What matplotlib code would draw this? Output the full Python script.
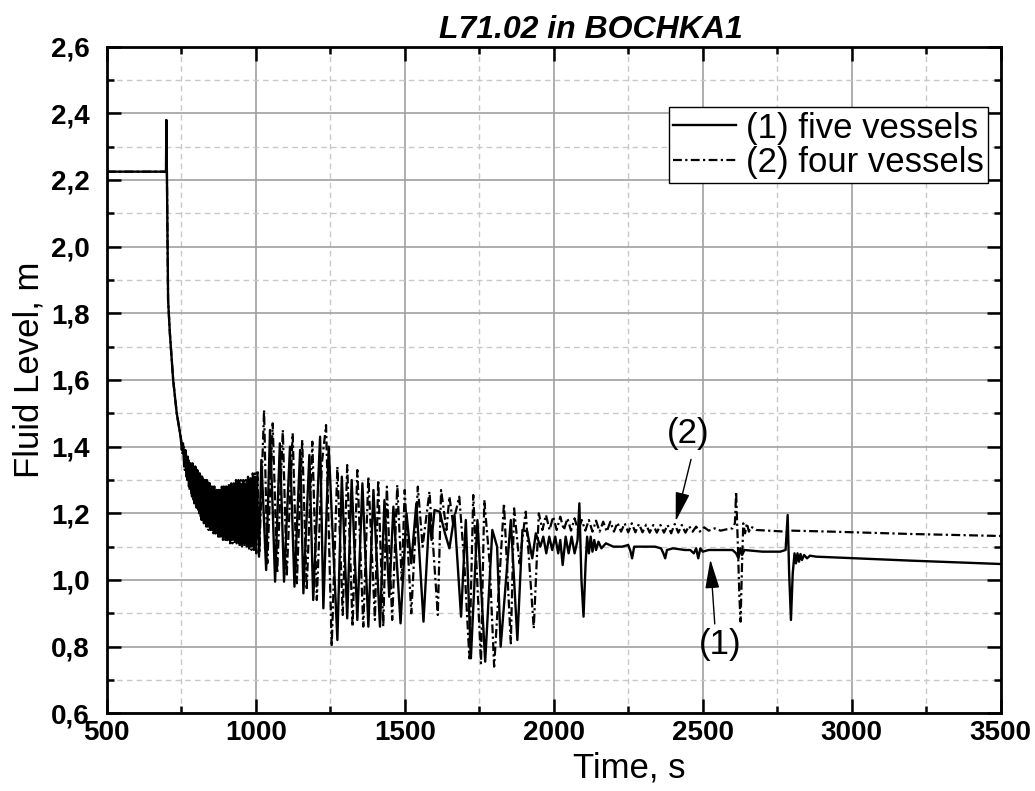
import matplotlib
matplotlib.use("Agg")
import matplotlib.pyplot as plt
from matplotlib.ticker import MultipleLocator, FuncFormatter

plt.rcParams['font.family'] = ['Liberation Sans', 'DejaVu Sans']

# common start: steady level, then the drop (both runs coincide)
t_start = [500, 699, 700, 702, 706, 712, 723, 735, 746]
v_start = [2.225, 2.225, 2.38, 2.22, 1.84, 1.74, 1.60, 1.50, 1.44]

# (1) five vessels - fast oscillating band, 748..1004 s
t1_band = [748, 752, 756, 760, 764, 768, 772, 776, 780, 784,
           788, 792, 796, 800, 804, 808, 812, 816, 820, 824,
           828, 832, 836, 840, 844, 848, 852, 856, 860, 864,
           868, 872, 876, 880, 884, 888, 892, 896, 900, 904,
           908, 912, 916, 920, 924, 928, 932, 936, 940, 944,
           948, 952, 956, 960, 964, 968, 972, 976, 980, 984,
           988, 992, 996, 1000, 1004]
v1_band = [1.43, 1.39, 1.41, 1.34, 1.39, 1.31, 1.37, 1.28, 1.35, 1.26,
           1.35, 1.24, 1.34, 1.22, 1.33, 1.21, 1.32, 1.19, 1.31, 1.18,
           1.30, 1.17, 1.30, 1.16, 1.29, 1.15, 1.28, 1.15, 1.28, 1.14,
           1.27, 1.14, 1.27, 1.13, 1.27, 1.13, 1.28, 1.13, 1.28, 1.12,
           1.28, 1.12, 1.28, 1.12, 1.28, 1.12, 1.29, 1.11, 1.29, 1.11,
           1.29, 1.11, 1.29, 1.11, 1.29, 1.11, 1.30, 1.10, 1.30, 1.10,
           1.30, 1.10, 1.31, 1.09, 1.31]

# (1) five vessels - after 1004 s
t1_rest = [1011, 1019, 1035, 1048, 1065, 1081, 1095, 1115, 1130, 1149, 1160, 1180, 1193,
           1216, 1227, 1245, 1274, 1289, 1307, 1322, 1341, 1358, 1378, 1395, 1417, 1432,
           1448, 1462, 1486, 1506, 1522, 1539, 1563, 1583, 1590, 1600, 1617, 1635, 1650,
           1667, 1689, 1705, 1722, 1744, 1770, 1794, 1810, 1822, 1856, 1878, 1895, 1911,
           1928, 1940, 1955, 1965, 1975, 1985, 1995, 2005, 2015, 2022, 2030, 2040, 2050,
           2060, 2070, 2080, 2086, 2093, 2100, 2107, 2112, 2118, 2124, 2130, 2136, 2142,
           2150, 2160, 2175, 2200, 2230, 2250, 2258, 2263, 2270, 2300, 2340, 2360, 2368,
           2374, 2380, 2400, 2440, 2458, 2470, 2478, 2485, 2492, 2500, 2520, 2560, 2600,
           2612, 2620, 2626, 2632, 2640, 2700, 2760, 2778, 2785, 2790, 2796, 2802, 2808,
           2813, 2818, 2823, 2828, 2833, 2840, 2850, 2860, 2880, 2935, 3200, 3500]
v1_rest = [1.07, 1.36, 1.03, 1.45, 0.995, 1.41, 0.995, 1.40, 0.98, 1.39, 0.96, 1.375, 0.94,
           1.43, 0.915, 1.40, 0.82, 1.31, 0.885, 1.30, 0.88, 1.29, 0.86, 1.27, 0.86, 1.24,
           0.95, 1.22, 0.87, 1.20, 1.05, 1.23, 0.875, 1.20, 1.12, 1.21, 1.205, 1.14, 1.095,
           1.195, 0.89, 1.18, 0.765, 1.18, 0.755, 1.15, 1.10, 0.80, 1.18, 0.82, 1.15, 1.145,
           1.065, 1.14, 1.10, 1.13, 1.08, 1.13, 1.09, 1.13, 1.08, 1.12, 1.045, 1.13, 1.08,
           1.13, 1.08, 1.12, 1.23, 1.00, 0.89, 1.05, 1.13, 1.08, 1.13, 1.085, 1.12, 1.09,
           1.115, 1.095, 1.11, 1.10, 1.10, 1.105, 1.085, 1.065, 1.10, 1.10, 1.10, 1.095, 1.08,
           1.065, 1.09, 1.095, 1.09, 1.09, 1.08, 1.095, 1.065, 1.095, 1.085, 1.09, 1.09, 1.09,
           1.08, 1.065, 1.095, 1.075, 1.09, 1.085, 1.085, 1.09, 1.195, 1.02, 0.88, 1.02, 1.08,
           1.05, 1.08, 1.055, 1.078, 1.06, 1.075, 1.065, 1.073, 1.07, 1.068, 1.058, 1.048]

# (2) four vessels - fast oscillating band, 750..1006 s
t2_band = [750, 754, 758, 762, 766, 770, 774, 778, 782, 786,
           790, 794, 798, 802, 806, 810, 814, 818, 822, 826,
           830, 834, 838, 842, 846, 850, 854, 858, 862, 866,
           870, 874, 878, 882, 886, 890, 894, 898, 902, 906,
           910, 914, 918, 922, 926, 930, 934, 938, 942, 946,
           950, 954, 958, 962, 966, 970, 974, 978, 982, 986,
           990, 994, 998, 1002, 1006]
v2_band = [1.42, 1.38, 1.40, 1.33, 1.38, 1.30, 1.36, 1.27, 1.35, 1.25,
           1.34, 1.23, 1.34, 1.21, 1.33, 1.20, 1.32, 1.18, 1.31, 1.17,
           1.30, 1.16, 1.30, 1.15, 1.29, 1.15, 1.28, 1.14, 1.28, 1.14,
           1.27, 1.13, 1.27, 1.13, 1.28, 1.12, 1.28, 1.12, 1.28, 1.12,
           1.29, 1.11, 1.29, 1.11, 1.29, 1.11, 1.30, 1.11, 1.30, 1.10,
           1.30, 1.10, 1.30, 1.10, 1.30, 1.10, 1.31, 1.09, 1.31, 1.09,
           1.32, 1.09, 1.32, 1.08, 1.33]

# (2) four vessels - after 1006 s
t2_rest = [1012, 1028, 1039, 1057, 1072, 1091, 1104, 1124, 1138, 1156, 1171, 1190, 1205,
           1222, 1236, 1255, 1274, 1292, 1307, 1325, 1341, 1361, 1378, 1400, 1411, 1428,
           1440, 1458, 1475, 1490, 1500, 1522, 1544, 1560, 1583, 1611, 1622, 1640, 1650,
           1662, 1683, 1700, 1717, 1730, 1756, 1767, 1785, 1800, 1833, 1856, 1867, 1885,
           1906, 1933, 1950, 1962, 1974, 1986, 1998, 2010, 2022, 2034, 2046, 2058, 2070,
           2082, 2094, 2106, 2118, 2130, 2142, 2154, 2166, 2178, 2190, 2202, 2214, 2226,
           2238, 2250, 2262, 2274, 2286, 2298, 2310, 2322, 2334, 2346, 2358, 2370, 2382,
           2394, 2406, 2418, 2430, 2442, 2454, 2466, 2478, 2490, 2505, 2520, 2540, 2560,
           2580, 2600, 2608, 2612, 2618, 2623, 2627, 2632, 2636, 2642, 2648, 2655, 2662,
           2680, 2720, 2780, 2800, 2935, 3200, 3500]
v2_rest = [1.08, 1.51, 1.05, 1.47, 1.02, 1.45, 1.01, 1.44, 0.99, 1.42, 0.97, 1.415, 0.94,
           1.35, 1.465, 0.80, 1.34, 0.895, 1.345, 0.86, 1.33, 0.86, 1.31, 0.88, 1.30, 0.86,
           1.28, 0.88, 1.285, 1.00, 1.27, 0.90, 1.28, 1.10, 1.265, 0.895, 1.27, 1.15, 1.25,
           1.17, 1.25, 1.05, 0.765, 1.255, 0.75, 1.24, 1.05, 0.74, 1.23, 0.81, 1.215, 1.05,
           1.205, 0.855, 1.20, 1.15, 1.195, 1.15, 1.19, 1.15, 1.19, 1.15, 1.185, 1.148, 1.185,
           1.148, 1.18, 1.148, 1.18, 1.145, 1.178, 1.145, 1.175, 1.145, 1.175, 1.145, 1.172,
           1.145, 1.17, 1.143, 1.17, 1.143, 1.168, 1.143, 1.166, 1.142, 1.165, 1.142, 1.165,
           1.142, 1.165, 1.14, 1.168, 1.142, 1.165, 1.142, 1.162, 1.145, 1.16, 1.145, 1.158,
           1.148, 1.155, 1.148, 1.152, 1.155, 1.17, 1.265, 1.10, 0.95, 0.875, 1.05, 1.17,
           1.14, 1.17, 1.145, 1.16, 1.15, 1.148, 1.145, 1.148, 1.145, 1.138, 1.132]

t1 = t_start + t1_band + t1_rest
v1 = v_start + v1_band + v1_rest
t2 = t_start + t2_band + t2_rest
v2 = v_start + v2_band + v2_rest

fig = plt.figure(figsize=(10.35, 7.91), dpi=100)
ax = fig.add_axes([0.1031, 0.0982, 0.8638, 0.8428])

ax.plot(t1, v1, color='black', lw=1.7, label='(1) five vessels', zorder=3)
ax.plot(t2, v2, color='black', lw=1.6, linestyle=(0, (4, 1.5, 1, 1.5)),
        label='(2) four vessels', zorder=3)

ax.set_xlim(500, 3500)
ax.set_ylim(0.6, 2.6)
ax.xaxis.set_major_locator(MultipleLocator(500))
ax.xaxis.set_minor_locator(MultipleLocator(250))
ax.yaxis.set_major_locator(MultipleLocator(0.2))
ax.yaxis.set_minor_locator(MultipleLocator(0.1))
ax.yaxis.set_major_formatter(FuncFormatter(lambda y, p: ('%.1f' % y).replace('.', ',')))

ax.grid(which='major', color='#a0a0a0', lw=1.2, ls='-', zorder=0)
ax.grid(which='minor', color='#c8c8c8', lw=1.0, ls=(0, (4, 3)), zorder=0)

ax.tick_params(which='both', direction='in', top=True, right=True, width=1.8)
ax.tick_params(which='major', length=10, labelsize=20)
ax.tick_params(axis='x', which='major', pad=5)
ax.tick_params(axis='y', which='major', pad=12)
ax.tick_params(which='minor', length=5)
for lab in ax.get_xticklabels() + ax.get_yticklabels():
    lab.set_fontweight('bold')
for sp in ax.spines.values():
    sp.set_linewidth(2.0)

ax.set_xlabel('Time, s', fontsize=25)
ax.xaxis.set_label_coords(0.585, -0.058)
ax.set_ylabel('Fluid Level, m', fontsize=25)
ax.yaxis.set_label_coords(-0.069, 0.515)
ax.set_title('L71.02 in BOCHKA1', fontsize=23, fontweight='bold', style='italic',
             x=0.542, pad=6)

leg = ax.legend(loc='upper right', bbox_to_anchor=(0.986, 0.909), fontsize=25,
                frameon=True, fancybox=False, framealpha=1, edgecolor='black',
                handlelength=1.8, handletextpad=0.3, borderpad=0.12, labelspacing=0.05,
                borderaxespad=0)
leg.get_frame().set_linewidth(1.0)

arrow = dict(arrowstyle='-|>,head_length=0.9,head_width=0.22', color='black', lw=1.0,
             mutation_scale=20)
ax.annotate('', xy=(2407, 1.168), xytext=(2463, 1.37), arrowprops=arrow)
ax.text(2452, 1.44, '(2)', fontsize=25, ha='center', va='center')
ax.annotate('', xy=(2525, 1.07), xytext=(2541, 0.86), arrowprops=arrow)
ax.text(2558, 0.805, '(1)', fontsize=25, ha='center', va='center')

fig.savefig('out.png', dpi=100)
